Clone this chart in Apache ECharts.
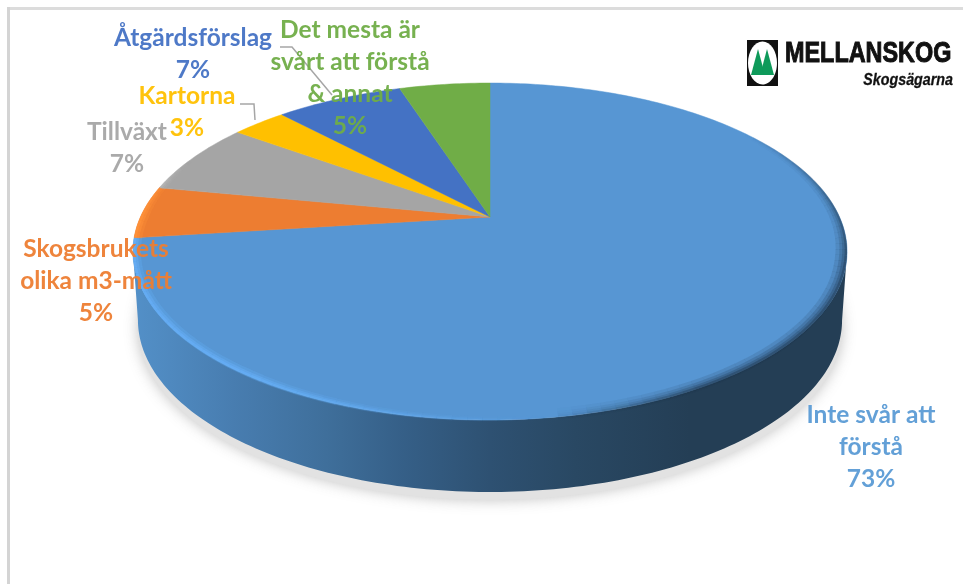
<!DOCTYPE html>
<html><head><meta charset="utf-8">
<style>html,body{margin:0;padding:0;background:#fff}#c{width:963px;height:584px}</style>
<script src="https://cdn.jsdelivr.net/npm/echarts@6/dist/echarts.min.js"></script>
</head><body><div id="c"></div>
<script>
var categories = ['Inte svår att\nförstå','Skogsbrukets\nolika m3-mått','Tillväxt','Kartorna','Åtgärdsförslag','Det mesta är\nsvårt att förstå\n& annat'];
var values = [73,5,7,3,7,5];
var colors = ['#5796d3','#ed7d31','#a5a5a5','#ffc000','#4472c4','#70ad47'];
var labelColors = ['#5b9bd5','#ed7d31','#a5a5a5','#ffc000','#4472c4','#70ad47'];

// Layout of the tilted disc (perspective projection of a circle)
var APEX = {x:490,y:217}, K = 0.2048, A = 161.4, B = 349.5;
var TOP = {cy:251.5,rx:357,ry:168.5}, BOT = {cy:320,rx:352,ry:172};
var FRONT = [101.8,258.2];
var labelAnchors = [[871,415],[96,249],[127,132],[187,96],[193,38],[350,30]];
var leaders = [null,null,null,[[240,104],[254,104],[255,120]],[[280,47],[292,47],[332,95]],null];

var total = values.reduce(function(a,b){return a+b;},0);
function startDeg(i){var s=0;for(var k=0;k<i;k++)s+=values[k];return s/total*360;}
function P(deg){
  var t=deg*Math.PI/180,u=Math.sin(t),v=Math.cos(t),w=1+K*v;
  return [APEX.x+B*u/w, APEX.y-A*v/w];
}
function Q(deg){
  var p=P(deg);
  return [APEX.x+(p[0]-APEX.x)*BOT.rx/TOP.rx, BOT.cy+(p[1]-TOP.cy)*BOT.ry/TOP.ry];
}
function inset(p,d){
  var f=1-d/TOP.rx;
  return [APEX.x+(p[0]-APEX.x)*f, TOP.cy+(p[1]-TOP.cy)*f];
}
function arc(a,b,fn){
  var n=Math.max(2,Math.ceil(Math.abs(b-a))),pts=[];
  for(var j=0;j<=n;j++)pts.push(fn(a+(b-a)*j/n));
  return pts;
}
function front(i){
  var a=Math.max(startDeg(i),FRONT[0]),b=Math.min(startDeg(i+1),FRONT[1]);
  return a<b?[a,b]:null;
}
function hex2rgb(h){return [parseInt(h.substr(1,2),16),parseInt(h.substr(3,2),16),parseInt(h.substr(5,2),16)];}
function brighten(h,p){return hex2rgb(h).map(function(c){return Math.min(255,Math.round(c*p));});}

function renderShadow(params,api){
  var r=front(params.dataIndex); if(!r) return {type:'group',children:[]};
  var pts=arc(0,360,function(d){var q=Q(d);return [q[0],q[1]+8];});
  return {type:'polygon',shape:{points:pts},style:{fill:'#e2e2e2',shadowBlur:14,shadowColor:'rgba(120,120,120,0.45)'},silent:true};
}
function renderWall(params,api){
  var r=front(params.dataIndex); if(!r) return {type:'group',children:[]};
  var pts=arc(r[0],r[1],P).concat(arc(r[1],r[0],Q));
  return {type:'polygon',shape:{points:pts},style:{fill:new echarts.graphic.LinearGradient(0,0,1,0,[
    {offset:0,color:'#5390c8'},{offset:0.14,color:'#487db0'},{offset:0.27,color:'#3f6f9b'},
    {offset:0.38,color:'#355f87'},{offset:0.5,color:'#2e5172'},{offset:0.62,color:'#294863'},
    {offset:0.78,color:'#243e55'},{offset:1,color:'#243e55'}])},silent:true};
}
function renderSlice(params,api){
  var i=params.dataIndex, a=startDeg(i), b=a+api.value(0)/total*360;
  var pts=[[APEX.x,APEX.y]].concat(arc(a,b,P));
  return {type:'polygon',shape:{points:pts},style:{fill:colors[i],stroke:colors[i],lineWidth:0.5},silent:true};
}
function seg(d,e,w,color){
  var p=inset(P(d),w/2),q=inset(P(e),w/2);
  return {type:'line',silent:true,shape:{x1:p[0],y1:p[1],x2:q[0],y2:q[1]},style:{stroke:color,lineWidth:w,lineCap:'butt'}};
}
function renderRim(params,api){
  var i=params.dataIndex, a=Math.max(startDeg(i),55), b=Math.min(startDeg(i+1),292);
  var kids=[]; if(a>=b) return {type:'group',children:kids};
  var dark=[[12,0.14],[8,0.2],[5,0.26],[2.5,0.42]];
  var hi=[[8,0.3],[5,0.5],[2.5,0.75]];
  var base=brighten(colors[i],1.16);
  for(var d=a;d<b;d+=2){
    var e=Math.min(d+2,b),m=(d+e)/2;
    if(m<172){
      var fade=m<105?Math.max(0,(m-55)/50):(m>150?(172-m)/22:1);
      var wk=m<105?0.35+0.65*(m-55)/50:1;
      dark.forEach(function(l){kids.push(seg(d,e,l[0]*wk,'rgba(32,56,78,'+(l[1]*fade)+')'));});
    } else {
      var f2=m<215?(m-172)/43:(m>270?Math.max(0,(292-m)/22):1);
      hi.forEach(function(l){kids.push(seg(d,e,l[0]*(0.5+0.5*f2),'rgba('+base.join(',')+','+(l[1]*f2)+')'));});
    }
  }
  return {type:'group',children:kids};
}
var LABEL_FONT='bold 24.5px Lato, "Open Sans", sans-serif';
function renderLabel(params,api){
  var i=params.dataIndex, kids=[], c=labelAnchors[i];
  var lines=categories[i].split('\n');
  lines.push(Math.round(api.value(0))+'%');
  lines.forEach(function(t,n){
    kids.push({type:'text',silent:true,style:{text:t,x:c[0],y:c[1]+n*32,fill:labelColors[i],font:LABEL_FONT,align:'center',verticalAlign:'middle',opacity:0.95}});
  });
  if(leaders[i]) kids.unshift({type:'polyline',silent:true,shape:{points:leaders[i]},style:{stroke:'#a6a6a6',lineWidth:1.5,fill:'none'}});
  return {type:'group',children:kids};
}
function layer(fn,z){return {type:'custom',coordinateSystem:'none',renderItem:fn,data:values,z:z,silent:true,animation:false,clip:false};}

var chart=echarts.init(document.getElementById('c'),null,{renderer:'canvas'});
chart.setOption({
  animation:false,
  backgroundColor:'#ffffff',
  series:[layer(renderShadow,1),layer(renderWall,2),layer(renderSlice,3),layer(renderRim,4),layer(renderLabel,6)],
  graphic:[
    {type:'rect',z:0,silent:true,shape:{x:7,y:7,width:956,height:3},style:{fill:'#dcdcdc'}},
    {type:'rect',z:0,silent:true,shape:{x:7,y:7,width:3,height:577},style:{fill:'#d4d4d4'}},
    {type:'rect',z:5,silent:true,shape:{x:747,y:40,width:31,height:46},style:{fill:'#111'}},
    {type:'ellipse',z:5,silent:true,shape:{cx:762.5,cy:63,rx:14.5,ry:21.5},style:{fill:'#fff'}},
    {type:'polygon',z:5,silent:true,shape:{points:[[758,49],[751,75],[765,75]]},style:{fill:'#0e9a5a'}},
    {type:'polygon',z:5,silent:true,shape:{points:[[767,49],[762,68],[764,75],[774,75]]},style:{fill:'#0e9a5a'}},
    {type:'text',z:5,silent:true,x:785,y:39,scaleX:0.78,style:{text:'MELLANSKOG',x:0,y:0,fill:'#111',stroke:'#111',lineWidth:1,font:'bold 30px "Liberation Sans", sans-serif',align:'left',verticalAlign:'top'}},
    {type:'text',z:5,silent:true,x:953,y:80,scaleX:0.84,style:{text:'Skogsägarna',x:0,y:0,fill:'#111',stroke:'#111',lineWidth:0.3,font:'italic bold 17px "Liberation Sans", sans-serif',align:'right',verticalAlign:'middle'}}
  ]
});
</script></body></html>
